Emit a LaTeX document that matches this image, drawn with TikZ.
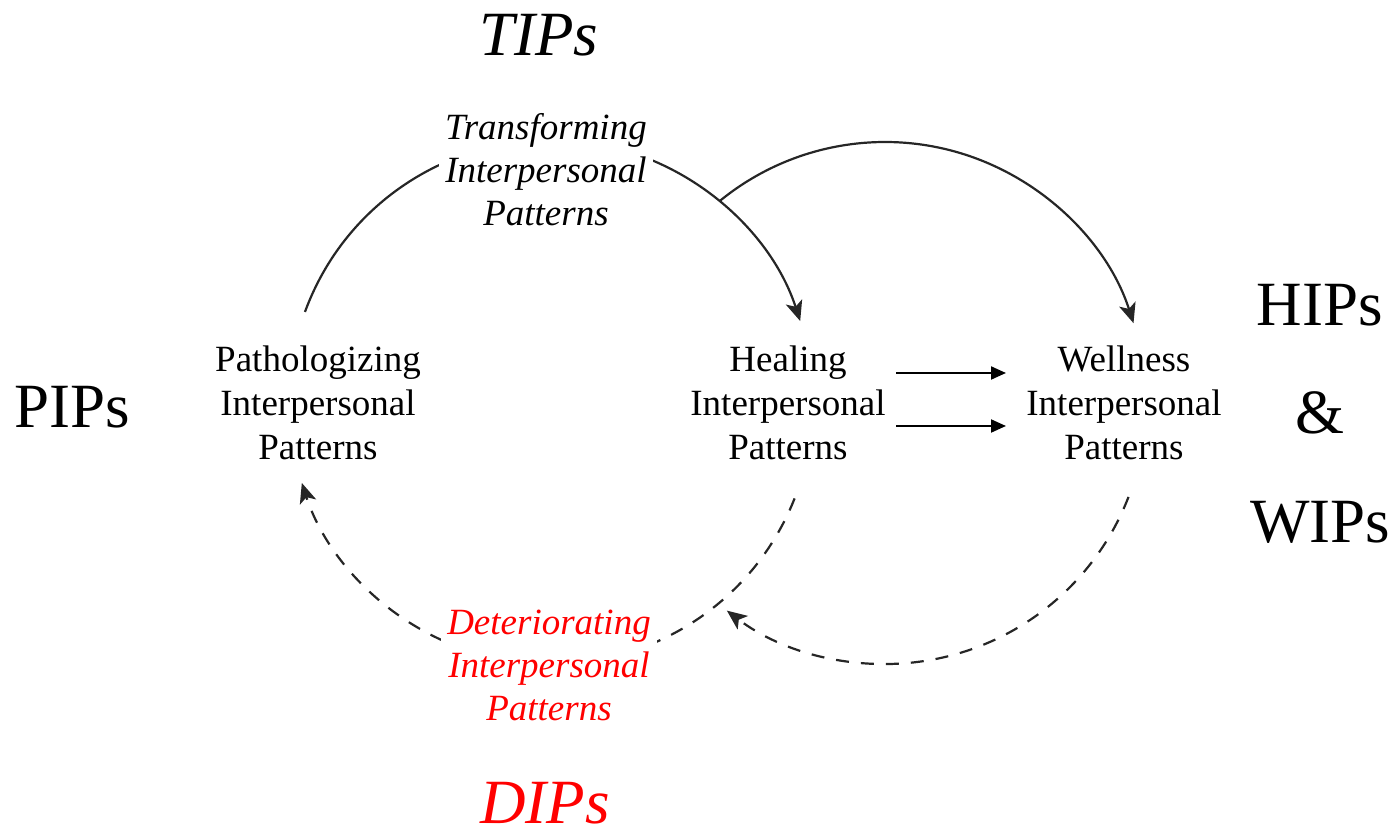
\documentclass[tikz,border=0pt]{standalone}
\usepackage{fontspec}
\setmainfont{Liberation Serif}
\usetikzlibrary{arrows.meta}
\definecolor{arcgray}{HTML}{262626}
\begin{document}
\begin{tikzpicture}[x=1pt,y=1pt,
  pattern/.style={align=center,font=\fontsize{37}{44}\selectfont,inner sep=4pt},
  arclabel/.style={align=center,font=\fontsize{37}{43}\selectfont\itshape,fill=white,inner sep=6pt},
  biglabel/.style={font=\fontsize{63}{70}\selectfont,inner sep=0pt},
  solidarc/.style={draw=arcgray,line width=2.2pt,-{Stealth[length=20pt,width=17pt,inset=5pt]}},
  dasharc/.style={draw=arcgray,line width=2.2pt,dash pattern=on 13pt off 12pt,-{Stealth[length=20pt,width=17pt,inset=5pt]}},
  straight/.style={draw=black,line width=2pt,-{Triangle[length=15pt,width=13pt]}}]
\useasboundingbox (0,0) rectangle (1395,834);
% circle centres
\coordinate (L) at (551,432);
\coordinate (R) at (885,431);
% nodes
\node[pattern] (P) at (318,431) {Pathologizing\\Interpersonal\\Patterns};
\node[pattern] (H) at (788,431) {Healing\\Interpersonal\\Patterns};
\node[pattern] (W) at (1124,431) {Wellness\\Interpersonal\\Patterns};
% arc end points
\path (L) ++(159.9:262pt) coordinate (t1);
\path (L) ++(-21.6:262pt) coordinate (d1);
\path (R) ++(129.2:261pt) coordinate (t2);
\path (R) ++(-21.1:261pt) coordinate (d2);
% arcs
\draw[solidarc] (t1) arc[start angle=159.9,end angle=18.0,radius=262pt];
\draw[dasharc] (d1) arc[start angle=-21.6,end angle=-162,radius=262pt];
\draw[solidarc] (t2) arc[start angle=129.2,end angle=17.8,radius=261pt];
\draw[dasharc] (d2) arc[start angle=-21.1,end angle=-127.3,radius=261pt];
% straight arrows
\coordinate (a1s) at (896,461);
\coordinate (a1e) at (1006,461);
\coordinate (a2s) at (896,408);
\coordinate (a2e) at (1006,408);
\draw[straight] (a1s) -- (a1e);
\draw[straight] (a2s) -- (a2e);
% arc labels
\node[arclabel] (TL) at (546,664) {Transforming\\Interpersonal\\Patterns};
\node[arclabel,text=red] (DL) at (549,169) {Deteriorating\\Interpersonal\\Patterns};
% big labels
\node[biglabel,font=\fontsize{63}{70}\selectfont\itshape] (TIPs) at (539,799) {TIPs};
\node[biglabel,font=\fontsize{63}{70}\selectfont\itshape,text=red] (DIPs) at (545,31) {DIPs};
\node[biglabel] (PIPs) at (72,427) {PIPs};
\node[biglabel] (HIPs) at (1320,529) {HIPs};
\node[biglabel] (amp) at (1320,421) {\&};
\node[biglabel] (WIPs) at (1320,312) {WIPs};
\end{tikzpicture}
\end{document}
